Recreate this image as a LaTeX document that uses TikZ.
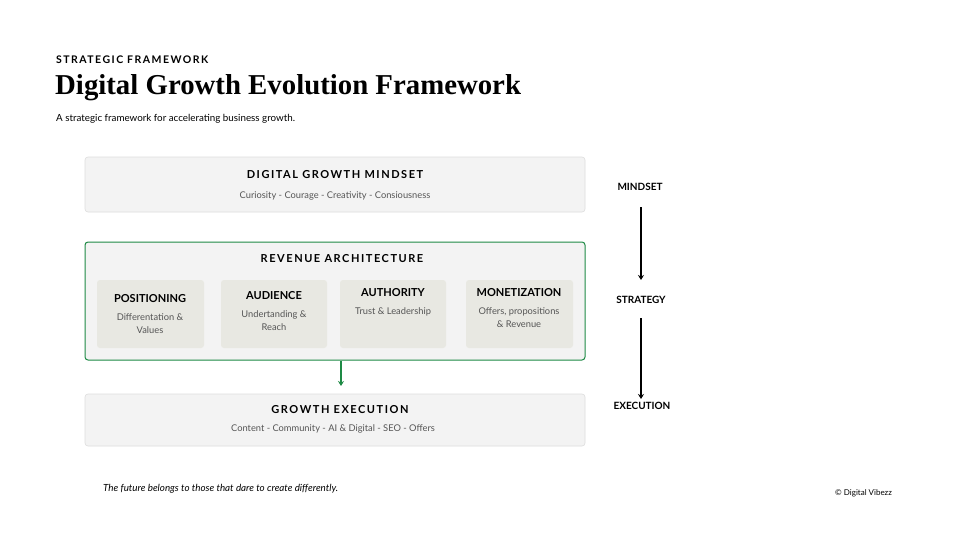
\documentclass[tikz,border=0pt]{standalone}
\usepackage{fontspec}
\setmainfont{Lato}
\newfontfamily\titlefont{Liberation Serif}
\newfontfamily\spacedfont[LetterSpace=14]{Lato}
\usetikzlibrary{positioning,arrows.meta}
\definecolor{panelgray}{HTML}{F3F3F3}
\definecolor{cardgray}{HTML}{E8E8E2}
\definecolor{edgegray}{HTML}{DDDDDD}
\definecolor{growgreen}{HTML}{1E8A45}
\definecolor{subtext}{HTML}{555555}

\begin{document}
\begin{tikzpicture}[x=1pt,y=-1pt]
\tikzset{
  panel/.style={draw=edgegray,fill=panelgray,rounded corners=3pt,line width=0.6pt},
  card/.style={fill=cardgray,rounded corners=3pt},
  panelhead/.style={font=\spacedfont\bfseries\fontsize{11}{13}\selectfont,inner sep=0pt},
  cardhead/.style={font=\bfseries\fontsize{11}{13}\selectfont,inner sep=0pt},
  subline/.style={font=\fontsize{9.3}{13}\selectfont,text=subtext,align=center,inner sep=0pt},
  stage/.style={font=\bfseries\fontsize{10}{12}\selectfont,inner sep=0pt}
}
\useasboundingbox (0,0) rectangle (980,551);
\fill[white] (0,0) rectangle (980,551);
% header
\node[anchor=west,inner sep=0pt,font=\spacedfont\bfseries\fontsize{10.5}{12}\selectfont] (kicker) at (56,60) {STRATEGIC FRAMEWORK};
\node[anchor=west,inner sep=0pt,font=\titlefont\bfseries\fontsize{28.8}{32}\selectfont] (title) at (55,88) {Digital Growth Evolution Framework};
\node[anchor=west,inner sep=0pt,font=\fontsize{9.8}{12}\selectfont] (lead) at (56,119) {A strategic framework for accelerating business growth.};
% mindset panel
\draw[panel] (85,157) rectangle (585,212);
\node[panelhead] (mindhead) at (335,175) {DIGITAL GROWTH MINDSET};
\node[subline] (mindsub) at (335,196) {Curiosity - Courage - Creativity - Consiousness};
% revenue panel
\draw[draw=growgreen,fill=panelgray,rounded corners=3pt,line width=1pt] (85,242) rectangle (585,360);
\node[panelhead] (revhead) at (342,259) {REVENUE ARCHITECTURE};
\fill[card] (97,280) rectangle (204,348);
\fill[card] (221,280) rectangle (327,348);
\fill[card] (340,280) rectangle (446,348);
\fill[card] (466,280) rectangle (573,348);
\node[cardhead] (pos) at (150,299) {POSITIONING};
\node[subline,below=10pt of pos] (possub) {Differentation \&\\Values};
\node[cardhead] (aud) at (274,296) {AUDIENCE};
\node[subline,below=10pt of aud] (audsub) {Undertanding \&\\Reach};
\node[cardhead] (auth) at (393,293) {AUTHORITY};
\node[subline,below=10pt of auth] (authsub) {Trust \& Leadership};
\node[cardhead] (mon) at (519,293) {MONETIZATION};
\node[subline,below=10pt of mon] (monsub) {Offers, propositions\\\& Revenue};
\coordinate (revbot) at (341,361);
\coordinate (exectop) at (341,386);
\draw[growgreen,line width=1.2pt,-{Stealth[length=5pt,width=6pt]}] (revbot) -- (exectop);
% execution panel
\draw[panel] (85,394) rectangle (585,446);
\node[panelhead] (exechead) at (340,410) {GROWTH EXECUTION};
\node[subline] (execsub) at (333,429) {Content - Community - AI \& Digital - SEO - Offers};
% stage column
\node[stage] (smind) at (640,187) {MINDSET};
\node[stage] (sstrat) at (641,300) {STRATEGY};
\node[stage] (sexec) at (642,406) {EXECUTION};
\draw[line width=1.2pt,-{Stealth[length=5pt,width=6pt]}] (641,207) -- (641,280);
\draw[line width=1.2pt,-{Stealth[length=5pt,width=6pt]}] (641,318) -- (641,399);
% footer
\node[anchor=west,inner sep=0pt,font=\itshape\fontsize{9.8}{12}\selectfont] (quote) at (103,489) {The future belongs to those that dare to create differently.};
\node[anchor=west,inner sep=0pt,font=\fontsize{8}{9}\selectfont] (copy) at (835,493) {© Digital Vibezz};
\end{tikzpicture}
\end{document}
